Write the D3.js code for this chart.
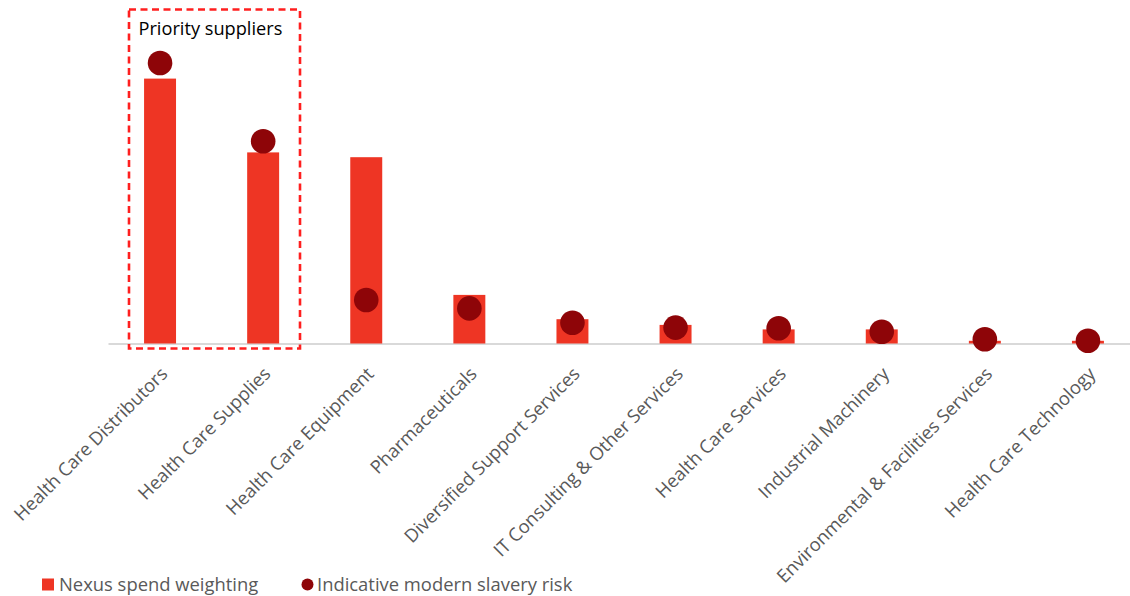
<!DOCTYPE html>
<html>
<head>
<meta charset="utf-8">
<script src="https://cdn.jsdelivr.net/npm/d3@7"></script>
<style>
  html, body { margin: 0; padding: 0; background: #fff; }
  svg { display: block; font-family: "Open Sans", "Noto Sans", sans-serif; }
  .cat-label { fill: #595959; font-size: 18.4px; }
  .legend-text { fill: #595959; font-size: 18.4px; }
  .note { fill: #000; font-size: 18.2px; }
</style>
</head>
<body>
<svg id="chart" width="1130" height="596"></svg>
<script>
const categories = [
    "Health Care Distributors",
    "Health Care Supplies",
    "Health Care Equipment",
    "Pharmaceuticals",
    "Diversified Support Services",
    "IT Consulting & Other Services",
    "Health Care Services",
    "Industrial Machinery",
    "Environmental & Facilities Services",
    "Health Care Technology"
];
// relative values (no y axis shown)
const spendWeighting = [88.3, 63.7, 62.1, 16.2, 8.1, 6.2, 4.7, 4.7, 0.9, 0.9];
const slaveryRisk = [93.5, 67.4, 14.5, 11.7, 6.9, 5.3, 5.1, 3.9, 1.4, 0.9];
const priorityCategories = ["Health Care Distributors", "Health Care Supplies"];
const legendLabels = ["Nexus spend weighting", "Indicative modern slavery risk"];

const barColor = "#ee3524";
const dotColor = "#8e0508";
const axisColor = "#d9d9d9";
const boxColor = "#ff1f1f";

const width = 1130;
const height = 596;
const baseline = 343.5;

const svg = d3.select("#chart");

const x = d3.scaleBand()
    .domain(categories)
    .range([108.5, 1139.5])
    .padding(0);

const y = d3.scaleLinear()
    .domain([0, 100])
    .range([baseline, baseline - 300]);

const barWidth = x.bandwidth() * 0.31;
const cx = d => x(d) + x.bandwidth() / 2;

// category axis line
svg.append("line")
    .attr("x1", x.range()[0])
    .attr("x2", width)
    .attr("y1", baseline + 0.5)
    .attr("y2", baseline + 0.5)
    .attr("stroke", axisColor)
    .attr("stroke-width", 2);

// bars
svg.append("g").selectAll("rect")
    .data(categories)
    .enter().append("rect")
    .attr("x", d => cx(d) - barWidth / 2)
    .attr("width", barWidth)
    .attr("y", (d, i) => y(spendWeighting[i]))
    .attr("height", (d, i) => y(0) - y(spendWeighting[i]))
    .attr("fill", barColor);

// risk dots
svg.append("g").selectAll("circle")
    .data(categories)
    .enter().append("circle")
    .attr("cx", d => cx(d))
    .attr("cy", (d, i) => y(slaveryRisk[i]))
    .attr("r", 12.3)
    .attr("fill", dotColor);

// rotated category labels
svg.append("g").selectAll("text")
    .data(categories)
    .enter().append("text")
    .attr("class", "cat-label")
    .attr("transform", d => `translate(${cx(d) + 4},${baseline + 27}) rotate(-45)`)
    .attr("text-anchor", "end")
    .attr("dy", "0.35em")
    .text(d => d);

// dashed box around priority suppliers
const boxLeft = x(priorityCategories[0]) + 20.5;
const boxRight = x(priorityCategories[priorityCategories.length - 1]) + x.bandwidth() - 14.7;
svg.append("rect")
    .attr("x", boxLeft)
    .attr("y", 9.5)
    .attr("width", boxRight - boxLeft)
    .attr("height", baseline + 5 - 9.5)
    .attr("fill", "none")
    .attr("stroke", boxColor)
    .attr("stroke-width", 2.6)
    .attr("stroke-dasharray", "7,4.5");

svg.append("text")
    .attr("class", "note")
    .attr("x", boxLeft + 9.5)
    .attr("y", 35)
    .text("Priority suppliers");

// legend
const legend = svg.append("g").attr("transform", "translate(42,584.5)");
legend.append("rect")
    .attr("x", 0).attr("y", -6)
    .attr("width", 12).attr("height", 12)
    .attr("fill", barColor);
legend.append("text")
    .attr("class", "legend-text")
    .attr("x", 17).attr("dy", "0.35em")
    .text(legendLabels[0]);
legend.append("circle")
    .attr("cx", 265.5).attr("cy", 0)
    .attr("r", 6)
    .attr("fill", dotColor);
legend.append("text")
    .attr("class", "legend-text")
    .attr("x", 275).attr("dy", "0.35em")
    .text(legendLabels[1]);
</script>
</body>
</html>
